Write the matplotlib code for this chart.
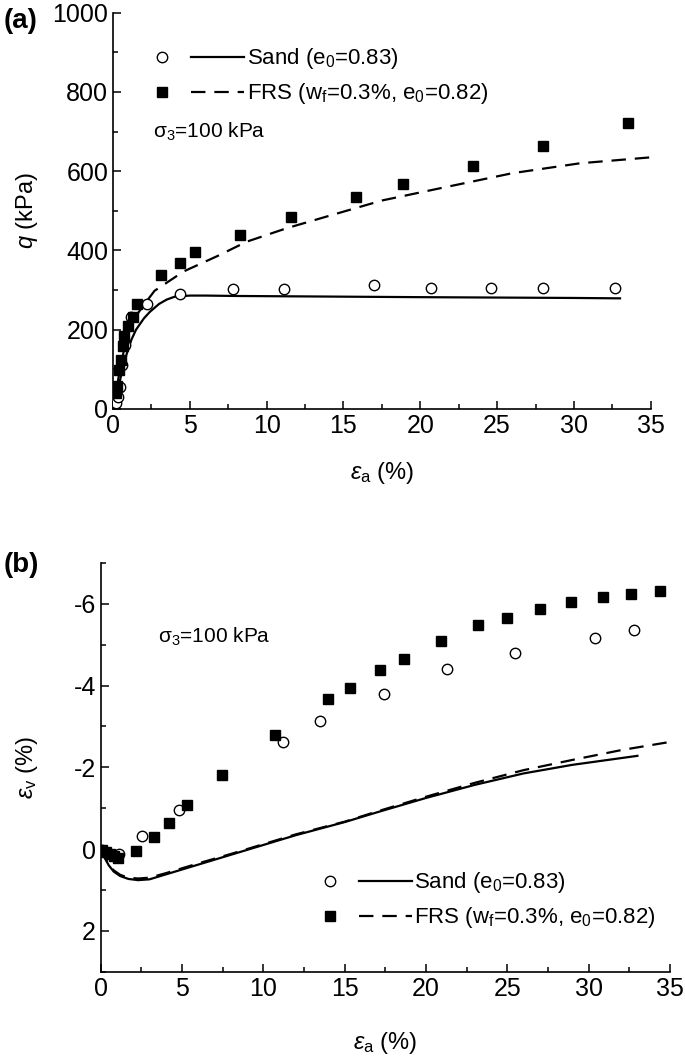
import numpy as np
import matplotlib
matplotlib.use("Agg")
import matplotlib.pyplot as plt
from matplotlib.ticker import MultipleLocator
from matplotlib.legend_handler import HandlerTuple

plt.rcParams['font.family'] = ['Liberation Sans', 'DejaVu Sans']
plt.rcParams['mathtext.fontset'] = 'custom'
plt.rcParams['mathtext.rm'] = 'Liberation Sans'
plt.rcParams['mathtext.it'] = 'Liberation Sans:italic'
plt.rcParams['axes.unicode_minus'] = False

# (a) deviator stress - test data
sand_ea = [0.2, 0.3, 0.45, 0.6, 0.8, 1.15, 2.2, 4.36, 7.8, 11.1, 17.0, 20.7, 24.6, 28.0, 32.7]
sand_q = [15, 30, 55, 110, 160, 231, 265, 290, 302, 302, 312, 304, 305, 305, 305]
frs_ea = [0.2, 0.28, 0.41, 0.54, 0.63, 0.72, 1.0, 1.32, 1.58, 3.12, 4.36, 5.33, 8.28, 11.6, 15.8, 18.9, 23.4, 28.0, 33.5]
frs_q = [40, 58, 97, 124, 159, 184, 208, 233, 264, 338, 368, 397, 439, 484, 535, 568, 614, 664, 721]

# (a) model curves
sand_fit_ea = [0, 0.25, 0.5, 0.75, 0.9, 1.2, 1.5, 2.0, 2.4, 3.0, 3.5, 4.0, 5.0, 6.0, 8.0, 12.0, 16.0, 20.0, 25.0, 30.0, 33.0]
sand_fit_q = [0, 35, 80, 120, 140, 175, 200, 228, 245, 265, 276, 283, 286, 286, 285, 284, 283, 282, 281, 280, 279]
frs_fit_ea = [0, 0.25, 0.5, 0.75, 1.0, 1.5, 2.0, 2.7, 4.6, 6.75, 8.7, 11.3, 14.3, 17.5, 21.3, 26.0, 30.4, 35.0]
frs_fit_q = [0, 55, 110, 155, 190, 235, 262, 298, 347, 385, 422, 456, 490, 526, 557, 595, 620, 635]

# (b) volumetric strain - test data
sand_ea_b = [0.1, 0.4, 0.7, 1.15, 2.52, 4.84, 11.2, 13.5, 17.4, 21.3, 25.5, 30.4, 32.8]
sand_ev = [0.03, 0.1, 0.15, 0.11, -0.32, -0.96, -2.62, -3.13, -3.8, -4.4, -4.8, -5.17, -5.37]
frs_ea_b = [0.1, 0.3, 0.55, 0.8, 1.08, 2.15, 3.28, 4.22, 5.29, 7.44, 10.7, 14.0, 15.3, 17.2, 18.65,
            20.9, 23.2, 25.0, 27.0, 28.9, 30.9, 32.6, 34.4]
frs_ev = [0.02, 0.08, 0.13, 0.18, 0.22, 0.05, -0.29, -0.63, -1.07, -1.8, -2.78, -3.66, -3.94, -4.38, -4.66,
          -5.1, -5.47, -5.65, -5.87, -6.05, -6.17, -6.23, -6.3]

# (b) model curves
sand_fit_ea_b = [0, 0.25, 0.5, 0.8, 1.2, 1.7, 2.3, 3.0, 4.0, 5.0, 6.0, 8.0, 10.0, 12.0, 15.0, 17.0, 20.0, 23.0, 26.0, 29.0, 33.0]
sand_fit_ev = [0, 0.22, 0.4, 0.55, 0.66, 0.73, 0.76, 0.74, 0.62, 0.5, 0.38, 0.14, -0.1, -0.34, -0.66, -0.9, -1.25, -1.57, -1.85, -2.06, -2.28]
frs_fit_ea_b = [0, 0.25, 0.5, 0.8, 1.2, 1.7, 2.3, 3.0, 4.0, 5.0, 6.0, 8.0, 10.0, 12.0, 15.0, 17.0, 20.0, 23.0, 26.0, 29.0, 32.0, 35.0]
frs_fit_ev = [0, 0.2, 0.38, 0.52, 0.63, 0.7, 0.72, 0.7, 0.59, 0.47, 0.35, 0.12, -0.12, -0.36, -0.67, -0.92, -1.28, -1.62, -1.93, -2.18, -2.42, -2.62]

sand_label = 'Sand (e$_0$=0.83)'
frs_label = 'FRS (w$_\\mathrm{f}$=0.3%, e$_0$=0.82)'
sigma_label = 'σ$_3$=100 kPa'

fig = plt.figure(figsize=(6.85, 10.62), dpi=100)
ax1 = fig.add_axes([0.165, 0.615, 0.785, 0.373])
ax2 = fig.add_axes([0.147, 0.085, 0.831, 0.385])

ms_c = 7.5
ms_s = 6.5
dash = (6.5, 4)
leg_kw = dict(handler_map={tuple: HandlerTuple(ndivide=None, pad=0.1)},
              loc='upper left', frameon=False, fontsize=16, numpoints=1,
              handlelength=4.9, handletextpad=0.1, labelspacing=0.45,
              borderpad=0, borderaxespad=0)

for ax in (ax1, ax2):
    ax.spines['top'].set_visible(False)
    ax.spines['right'].set_visible(False)
    for s in ('left', 'bottom'):
        ax.spines[s].set_linewidth(1.2)
    ax.tick_params(which='both', direction='in', width=1.1, labelsize=18)
    ax.tick_params(which='major', length=6)
    ax.tick_params(which='minor', length=3.5)
    ax.set_xlim(0, 35)
    ax.xaxis.set_major_locator(MultipleLocator(5))
    ax.xaxis.set_minor_locator(MultipleLocator(2.5))

# panel (a)
c1, = ax1.plot(sand_ea, sand_q, 'o', mfc='white', mec='black', mew=1.0, ms=ms_c, zorder=3)
s1, = ax1.plot(frs_ea, frs_q, 's', color='black', ms=ms_s, zorder=3)
l1, = ax1.plot(sand_fit_ea, sand_fit_q, '-', color='black', lw=1.6)
d1, = ax1.plot(frs_fit_ea, frs_fit_q, '--', color='black', lw=1.6, dashes=dash)
ax1.set_ylim(0, 1000)
ax1.yaxis.set_major_locator(MultipleLocator(200))
ax1.yaxis.set_minor_locator(MultipleLocator(100))
ax1.set_xlabel('$\\varepsilon_\\mathrm{a}$ (%)', fontsize=17, labelpad=16)
ax1.set_ylabel('$\\it{q}$ (kPa)', fontsize=17, labelpad=9)
ax1.legend([(c1, l1), (s1, d1)], [sand_label, frs_label],
           bbox_to_anchor=(0.042, 0.915), **leg_kw)
ax1.text(2.6, 700, sigma_label, fontsize=15, va='center')
fig.text(0.006, 0.980, '(a)', fontsize=20, fontweight='bold', va='center')

# panel (b)
c2, = ax2.plot(sand_ea_b, sand_ev, 'o', mfc='white', mec='black', mew=1.0, ms=ms_c, zorder=3)
s2, = ax2.plot(frs_ea_b, frs_ev, 's', color='black', ms=ms_s, zorder=3)
l2, = ax2.plot(sand_fit_ea_b, sand_fit_ev, '-', color='black', lw=1.6)
d2, = ax2.plot(frs_fit_ea_b, frs_fit_ev, '--', color='black', lw=1.6, dashes=dash)
ax2.set_ylim(3, -7)
ax2.yaxis.set_major_locator(MultipleLocator(2))
ax2.yaxis.set_minor_locator(MultipleLocator(1))
ax2.set_xlabel('$\\varepsilon_\\mathrm{a}$ (%)', fontsize=17, labelpad=21)
ax2.set_ylabel('$\\varepsilon_\\mathrm{v}$ (%)', fontsize=17, labelpad=24)
ax2.legend([(c2, l2), (s2, d2)], [sand_label, frs_label],
           bbox_to_anchor=(0.356, 0.248), **leg_kw)
ax2.text(3.5, -5.2, sigma_label, fontsize=15, va='center')
fig.text(0.006, 0.468, '(b)', fontsize=20, fontweight='bold', va='center')

fig.savefig('out.png', dpi=100)
